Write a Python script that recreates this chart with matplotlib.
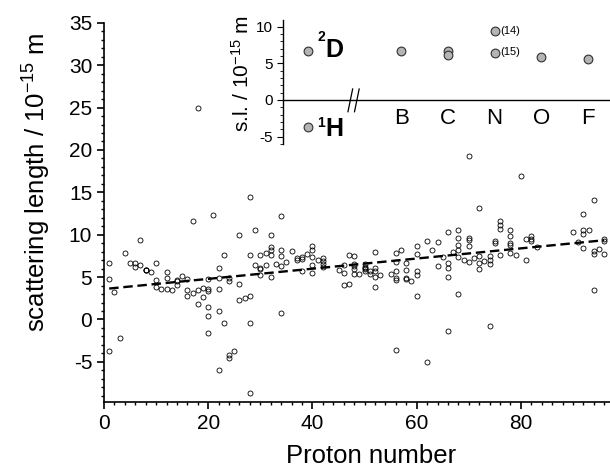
import matplotlib.pyplot as plt
from matplotlib.ticker import MultipleLocator

plt.rcParams['font.family'] = ['Liberation Sans', 'DejaVu Sans']
plt.rcParams['axes.unicode_minus'] = False
plt.rcParams['mathtext.fontset'] = 'custom'
plt.rcParams['mathtext.rm'] = 'Liberation Sans'
plt.rcParams['mathtext.it'] = 'Liberation Sans:italic'
plt.rcParams['mathtext.bf'] = 'Liberation Sans:bold'

# coherent scattering lengths (10^-15 m) of the isotopes, per element
elements = [1, 2, 3, 4, 5, 6, 7, 8, 9, 10, 11, 12, 13, 14, 15, 16, 17, 18, 19, 20,
            21, 22, 23, 24, 25, 26, 27, 28, 29, 30, 31, 32, 33, 34, 35, 36, 37, 38, 39, 40,
            41, 42, 45, 46, 47, 48, 49, 50, 51, 52, 53, 55, 56, 57, 58, 59, 60, 62, 63, 64,
            65, 66, 67, 68, 69, 70, 71, 72, 73, 74, 75, 76, 78, 79, 80, 81, 82, 83,
            90, 91, 92, 93, 94, 95, 96]
lengths = [
    [6.67, 4.79, -3.74], [3.26], [-2.22], [7.79], [6.65], [6.65, 6.19], [9.37, 6.44],
    [5.80, 5.78, 5.84], [5.65], [6.66, 4.63, 3.87], [3.63], [5.66, 4.89, 3.62], [3.45],
    [4.70, 4.58, 4.11], [5.13], [4.74, 3.48, 2.80], [11.65, 3.08], [24.9, 3.5, 1.83],
    [3.74, 2.69], [4.80, 3.6, 3.36, 1.42, 0.39, -1.56],
    [12.29], [6.1, 4.85, 3.6, 1.0, -6.0], [7.6, -0.40], [4.92, 4.55, -4.2, -4.5], [-3.73],
    [9.94, 4.2, 2.3], [2.49], [14.4, 7.6, 2.8, -0.37, -8.7], [10.61, 6.43],
    [7.56, 6.03, 5.97, 5.22], [7.88, 6.40], [10.0, 8.51, 8.2, 7.58, 5.02], [6.58],
    [12.2, 8.25, 7.48, 6.34, 0.8], [6.79], [8.1], [7.23, 7.03], [7.4, 7.15, 5.67], [7.75],
    [8.7, 8.2, 7.4, 6.4, 5.5],
    [7.05], [7.24, 6.91, 6.58, 6.20], [5.88], [6.4, 5.5, 4.1], [7.55, 4.17],
    [7.5, 6.5, 6.3, 5.9, 5.4], [5.39], [6.49, 6.2, 6.07, 5.93, 5.74], [5.71, 5.38],
    [7.96, 6.02, 5.7, 5.02, 3.8], [5.28], [5.42], [7.8, 6.83, 5.7, 4.91, 4.67, -3.6],
    [8.24], [6.70, 5.80, 4.84, 4.75], [4.58], [8.7, 7.7, 5.7, 5.3, 2.8], [9.3, -5.0],
    [8.22], [9.15, 6.3],
    [7.38], [10.3, 6.7, 6.1, 5.0, -1.4], [8.01], [10.6, 9.6, 8.8, 8.2, 7.4, 3.0], [7.07],
    [19.3, 9.66, 9.43, 8.72, 6.77], [7.28], [13.2, 7.46, 6.61, 5.9], [6.91],
    [7.48, 6.97, 6.53, -0.72], [9.3, 9.0], [11.6, 11.2, 10.7, 7.6],
    [10.55, 9.9, 9.0, 8.83, 7.8], [7.63], [16.9], [9.52, 6.99], [9.90, 9.50, 9.22], [8.53],
    [10.31], [9.1], [12.4, 10.5, 10.1, 8.41], [10.55], [14.1, 8.1, 7.7, 3.5], [8.3],
    [9.5, 9.3, 7.7],
]

# linear fit drawn as dashed line
fit_z = [1, 96]
fit_b = [3.65, 9.35]

# inset: light nuclides
inset_categories = ['H', '', 'B', 'C', 'N', 'O', 'F']
inset_nuclide = ['H', 'H', 'B', 'C', 'C', 'N', 'N', 'O', 'F']
inset_length = [-3.74, 6.67, 6.65, 6.65, 6.19, 9.37, 6.44, 5.80, 5.65]

z_all, b_all = [], []
for z, bs in zip(elements, lengths):
    for b in bs:
        z_all.append(z)
        b_all.append(b)

fig = plt.figure(figsize=(6.1, 4.7), dpi=100)
ax = fig.add_axes([0.1705, 0.1453, 0.8295, 0.8062])

ax.plot(z_all, b_all, 'o', mfc='none', mec='black', ms=3.6, mew=0.6, ls='none')
ax.plot(fit_z, fit_b, color='black', lw=1.7, dashes=(4, 2))

ax.set_xlim(0, 97.1)
ax.set_ylim(-9.7, 35)
ax.xaxis.set_major_locator(MultipleLocator(20))
ax.xaxis.set_minor_locator(MultipleLocator(2))
ax.yaxis.set_major_locator(MultipleLocator(5))
ax.yaxis.set_minor_locator(MultipleLocator(1))
ax.spines['top'].set_visible(False)
ax.spines['right'].set_visible(False)
for s in ('left', 'bottom'):
    ax.spines[s].set_linewidth(1.2)
ax.tick_params(which='major', direction='out', length=5, width=1.2, labelsize=15)
ax.tick_params(which='minor', direction='out', length=2.5, width=1.0)
ax.set_xlabel('Proton number', fontsize=18.5)
ax.set_ylabel('scattering length / 10$^{-15}$ m', fontsize=18.5)
ax.xaxis.set_label_coords(0.527, -0.112)
ax.yaxis.set_label_coords(-0.10, 0.58)

# inset
ins = fig.add_axes([0.464, 0.6936, 0.536, 0.2638])
ins.patch.set_alpha(0)
pos = {name: i for i, name in enumerate(inset_categories) if name}
ins.plot([pos[n] for n in inset_nuclide], inset_length, 'o', mfc='#b4b4b4', mec='#303030',
         ms=6.3, mew=0.8, ls='none')
ins.set_xlim(-0.53, 6.47)
ins.set_ylim(-6.0, 10.9)
ins.spines['top'].set_visible(False)
ins.spines['right'].set_visible(False)
ins.spines['bottom'].set_position(('data', 0))
ins.spines['bottom'].set_linewidth(1.0)
ins.spines['left'].set_linewidth(1.0)
ins.set_xticks(range(2, len(inset_categories)))
ins.set_xticklabels(inset_categories[2:], fontsize=16)
ins.tick_params(axis='x', length=0, pad=6)
ins.yaxis.set_major_locator(MultipleLocator(5))
ins.yaxis.set_minor_locator(MultipleLocator(1))
ins.tick_params(axis='y', which='major', direction='out', length=4, labelsize=11)
ins.tick_params(axis='y', which='minor', direction='out', length=2)
ins.set_ylabel('s.l. / 10$^{-15}$ m', fontsize=15)
ins.yaxis.set_label_coords(-0.092, 0.57)

# axis break
ins.plot([0.86, 0.96], [-1.6, 1.5], color='black', lw=0.9)
ins.plot([1.00, 1.10], [-1.6, 1.5], color='black', lw=0.9)

ins.text(0.2, 8.6, '2', fontsize=10, fontweight='bold', ha='left', va='center')
ins.text(0.37, 6.75, 'D', fontsize=18, fontweight='bold', ha='left', va='center')
ins.text(0.2, -3.1, '1', fontsize=10, fontweight='bold', ha='left', va='center')
ins.text(0.37, -3.9, 'H', fontsize=18, fontweight='bold', ha='left', va='center')
ins.text(4.13, 9.45, '(14)', fontsize=8, ha='left', va='center')
ins.text(4.13, 6.5, '(15)', fontsize=8, ha='left', va='center')

fig.savefig('out.png', dpi=100)
